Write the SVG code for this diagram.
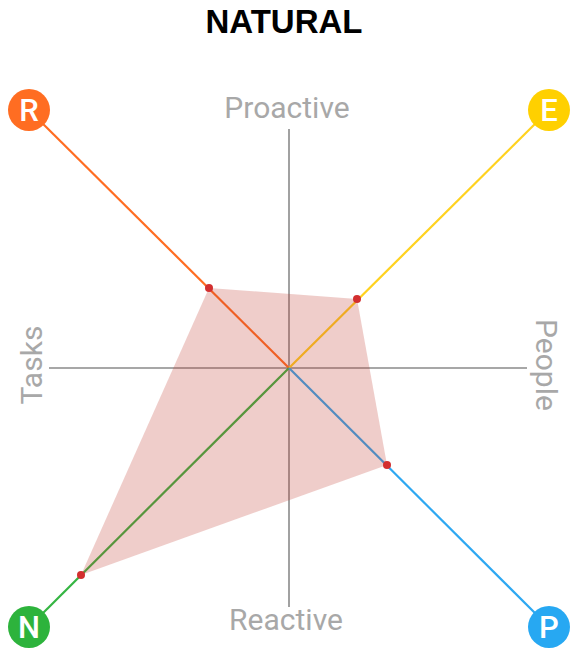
<svg xmlns="http://www.w3.org/2000/svg" width="573" height="649" viewBox="0 0 573 649">
<style>
.axis{stroke:#8a8a8a;stroke-width:1.6;fill:none}
.lbl{font-family:Roboto,"Liberation Sans",sans-serif;font-size:30px;fill:#a8a8a8;text-anchor:middle}
.spoke{stroke-width:2.2;fill:none}
.dot{fill:#d32f2f}
.badge text{font-family:Roboto,"Liberation Sans",sans-serif;font-size:31px;font-weight:500;fill:#fff;text-anchor:middle}
</style>
<rect width="573" height="649" fill="#fff"/>
<text x="284" y="33" font-family="'Liberation Sans',Arial,sans-serif" font-size="33" font-weight="bold" text-anchor="middle" fill="#000">NATURAL</text>
<g id="axes">
<line class="axis" x1="289" y1="129" x2="289" y2="607"/>
<line class="axis" x1="49" y1="368" x2="527" y2="368"/>
<text class="lbl" x="287" y="118">Proactive</text>
<text class="lbl" x="286" y="630">Reactive</text>
<text class="lbl" transform="translate(42,365) rotate(-90)">Tasks</text>
<text class="lbl" transform="translate(536,365) rotate(90)">People</text>
</g>
<g id="connectors">
<line class="spoke" stroke="#ff6d22" x1="289" y1="368" x2="29" y2="110"/>
<line class="spoke" stroke="#ffd21f" x1="289" y1="368" x2="549" y2="110"/>
<line class="spoke" stroke="#35b543" x1="289" y1="368" x2="29" y2="627"/>
<line class="spoke" stroke="#2ea8f2" x1="289" y1="368" x2="549" y2="627"/>
</g>
<g id="area">
<polygon points="209,288 357,299 387,465 81,575" fill="#c0392b" fill-opacity="0.25"/>
<circle class="dot" cx="209" cy="288" r="4"/>
<circle class="dot" cx="357" cy="299" r="4"/>
<circle class="dot" cx="387" cy="465" r="4"/>
<circle class="dot" cx="81" cy="575" r="4"/>
</g>
<g id="node-R" class="badge"><circle cx="29" cy="110" r="21" fill="#ff6d22"/><text x="29" y="121">R</text></g>
<g id="node-E" class="badge"><circle cx="549" cy="110" r="21" fill="#ffd000"/><text x="549" y="121">E</text></g>
<g id="node-N" class="badge"><circle cx="29" cy="627" r="21" fill="#2db33c"/><text x="29" y="638">N</text></g>
<g id="node-P" class="badge"><circle cx="549" cy="627" r="21" fill="#27a8f2"/><text x="549" y="638">P</text></g>
</svg>
